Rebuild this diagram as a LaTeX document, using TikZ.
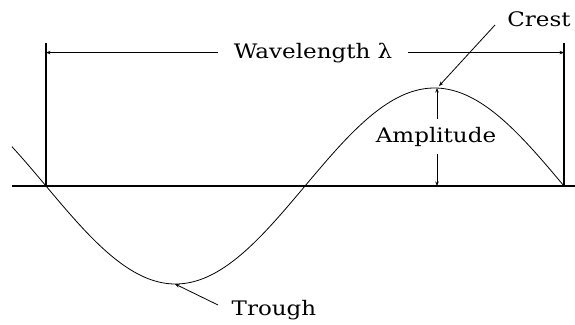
\documentclass[tikz,border=0pt]{standalone}
\usepackage{fontspec}
\setmainfont[FakeStretch=1.15]{DejaVu Serif}
\usepackage{tikz}
\usetikzlibrary{arrows.meta,positioning,calc}
\tikzset{
  axisline/.style ={line width=1.1pt},
  wave/.style     ={line width=0.8pt},
  dimline/.style  ={line width=0.9pt,-{Stealth[length=4.5pt,width=3.5pt]}},
  leader/.style   ={line width=0.8pt,-{Stealth[length=4.5pt,width=3.5pt]}},
  lbl/.style      ={font=\fontsize{20pt}{22pt}\selectfont,inner sep=0pt,anchor=base},
}
\begin{document}
\begin{tikzpicture}[x=1pt,y=-1pt]
  \useasboundingbox (0,0) rectangle (575,324);
  % axis and the two zero crossings one wavelength apart
  \coordinate (axL) at (12,186);
  \coordinate (axR) at (575,186);
  \coordinate (z0) at (46,186);
  \coordinate (z2) at (564,186);
  \coordinate (top0) at (46,43);
  \coordinate (top2) at (564,43);
  \draw[axisline] (axL) -- (axR);
  \draw[axisline] (z0) -- (top0);
  \draw[axisline] (z2) -- (top2);
  % the wave
  \draw[wave] plot[smooth,domain=12:564,samples=120]
     (\x,{186+98*sin(0.69498*(\x-46))});
  \coordinate (crestPt) at (437,88);
  \coordinate (troughPt) at (175,284);
  \coordinate (basePt) at (437,186);
  % wavelength
  \node[lbl,inner xsep=16pt,inner ysep=2pt] (wl) at (313,58) {Wavelength λ};
  \draw[dimline] (wl.west) -- (wl.west -| top0);
  \draw[dimline] (wl.east) -- (wl.east -| top2);
  % amplitude
  \node[lbl,inner ysep=8pt] (amp) at (436,142) {Amplitude};
  \draw[dimline] (amp.north -| crestPt) -- (crestPt);
  \draw[dimline] (amp.south -| basePt) -- (basePt);
  % crest and trough
  \node[lbl] (crestLbl) at (539,26) {Crest};
  \coordinate (crestTail) at (495,25);
  \draw[leader] (crestTail) -- ([shift={(2,-2)}]crestPt);
  \node[lbl] (troughLbl) at (274,315) {Trough};
  \coordinate (troughTail) at (218,305);
  \draw[leader] (troughTail) -- (troughPt);
\end{tikzpicture}
\end{document}
